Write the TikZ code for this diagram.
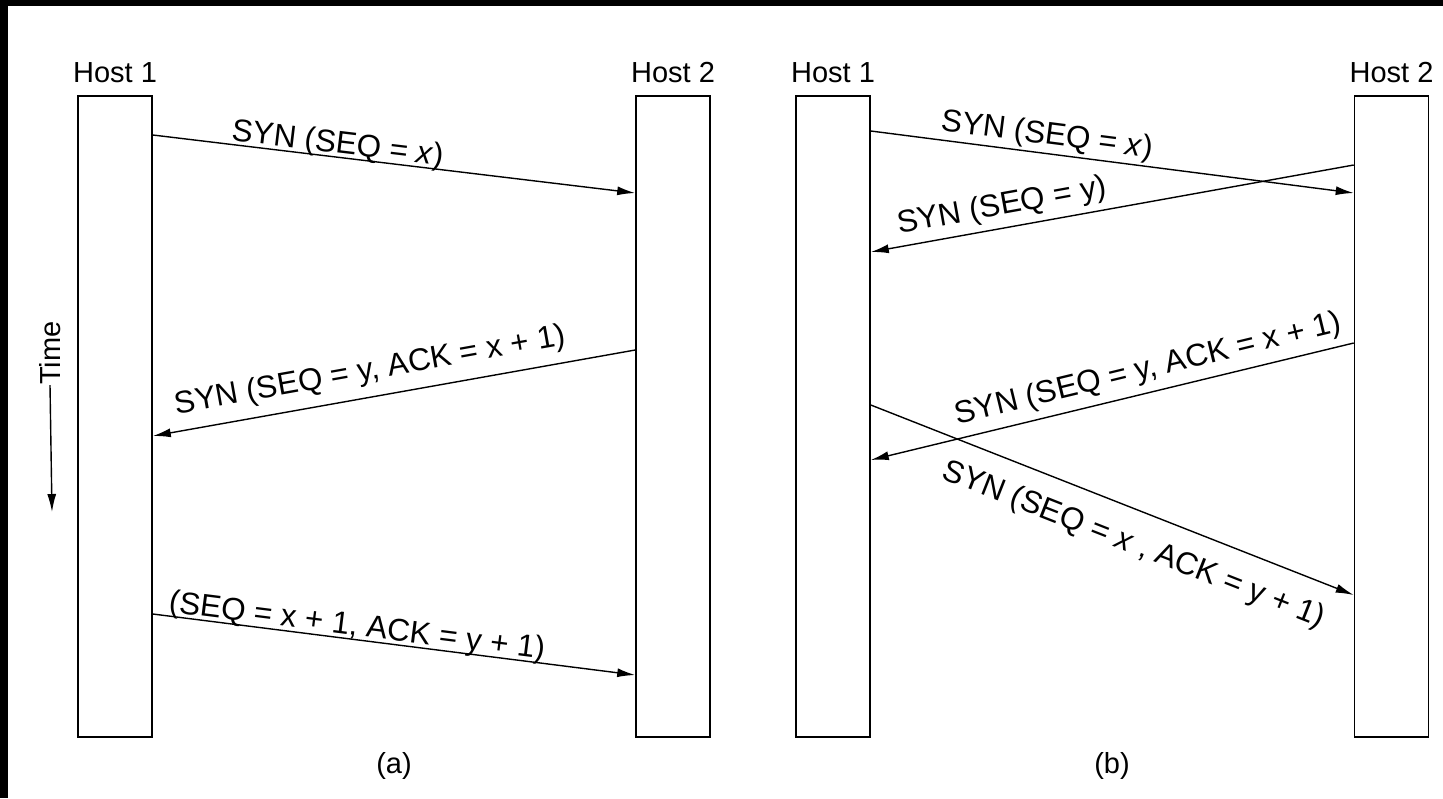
\documentclass[tikz,border=0pt]{standalone}
\usepackage{fontspec}
\setmainfont{Liberation Sans}
\usetikzlibrary{arrows.meta}
\begin{document}
\begin{tikzpicture}[x=0.5pt,y=-0.5pt,
  hostbox/.style={draw, line width=0.8pt, rectangle, inner sep=0pt,
    minimum width=37pt, minimum height=320.5pt},
  hostlabel/.style={font=\fontsize{14.5pt}{17pt}\selectfont, anchor=base, inner sep=0pt},
  caption/.style={font=\fontsize{14.5pt}{17pt}\selectfont, inner sep=0pt},
  msg/.style={line width=0.7pt, -{Latex[length=9pt,width=4.5pt]}},
  lbl/.style={font=\fontsize{15.7pt}{18pt}\selectfont, sloped, inner sep=0pt}
]
\useasboundingbox (0,0) rectangle (1443,798);
\fill[white] (0,0) rectangle (1443,798);
% dark frame strips along the top and left edges
\fill[black] (0,0) rectangle (1443,6);
\fill[black] (0,0) rectangle (8,798);

% (a) normal three-way handshake
\node[hostbox] (h1a) at (115,416.5) {};
\node[hostbox] (h2a) at (673,416.5) {};
\node[hostlabel] (t1a) at (h1a.north |- 0,82) {Host 1};
\node[hostlabel] (t2a) at (h2a.north |- 0,82) {Host 2};

\draw[msg] (h1a.east |- 0,135) -- node[lbl, pos=0.38, above=-1.5pt] {SYN (SEQ = \textit{x})} (h2a.west |- 0,193);
\draw[msg] (h2a.west |- 0,350) -- node[lbl, pos=0.54, above=5pt] {SYN (SEQ = y, ACK = x + 1)} (h1a.east |- 0,436);
\draw[msg] (h1a.east |- 0,614) -- node[lbl, pos=0.42, above=-1.5pt] {(SEQ = x + 1, ACK = y + 1)} (h2a.west |- 0,675);

\node[caption] (capa) at (394,766) {(a)};

% time axis
\node[caption, rotate=90] (time) at (50,353) {Time};
\coordinate (tend) at (52,512);
\draw[msg] (time.west) -- (tend);

% (b) simultaneous open
\node[hostbox] (h1b) at (833,416.5) {};
\node[hostbox] (h2b) at (1391.5,416.5) {};
\node[hostlabel] (t1b) at (h1b.north |- 0,82) {Host 1};
\node[hostlabel] (t2b) at (h2b.north |- 0,82) {Host 2};

\draw[msg] (h1b.east |- 0,131) -- node[lbl, pos=0.36, above=1pt] {SYN (SEQ = \textit{x})} (h2b.west |- 0,193);
\draw[msg] (h2b.west |- 0,165) -- node[lbl, pos=0.72, above=3pt] {SYN (SEQ = y)} (h1b.east |- 0,252);
\draw[msg] (h2b.west |- 0,343) -- node[lbl, pos=0.415, above=3.5pt] {SYN (SEQ = y, ACK = x + 1)} (h1b.east |- 0,460);
\draw[msg] (h1b.east |- 0,405) -- node[lbl, pos=0.57, below=9.5pt] {SYN (SEQ = \textit{x} , ACK = y + 1)} (h2b.west |- 0,595);

\node[caption] (capb) at (1112,766) {(b)};
\end{tikzpicture}
\end{document}
